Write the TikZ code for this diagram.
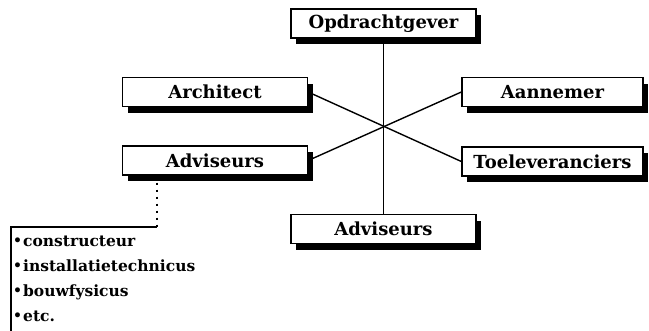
\documentclass[tikz,border=0pt]{standalone}
\usepackage{fontspec}
\setmainfont{DejaVu Serif}
\usetikzlibrary{shadows,positioning,backgrounds}
\newcommand{\itemdot}{\raisebox{0.05em}{\fontsize{14}{14}\selectfont\textbullet}\kern1pt}
\tikzset{
  every node/.style={
    font=\fontsize{18}{20}\selectfont\bfseries
  },
  party/.style={
    shape=rectangle,
    draw=black,
    line width=1.3pt,
    fill=white,
    minimum width=185pt,
    minimum height=29pt,
    inner sep=0pt,
    drop shadow={shadow xshift=5pt,shadow yshift=-6pt,fill=black,opacity=1}
  },
  link/.style={
    line width=1.4pt
  },
  dotlink/.style={
    line width=2pt,
    dash pattern=on 2pt off 5pt
  },
  members/.style={
    align=left,
    inner sep=0pt,
    font=\fontsize{15.5}{25}\selectfont\bfseries
  }
}
\begin{document}
\begin{tikzpicture}[x=1pt,y=-1pt]
  \useasboundingbox (0,0) rectangle (649,330);
  \node [party] (opdr) at (383.5,23.5) {Opdrachtgever};
  \node [party] (arch) at (215,92) {Architect};
  \node [party] (adv) at (215,160.5) {Adviseurs};
  \node [party,minimum width=181pt] (aan) at (552.5,92) {Aannemer};
  \node [party,minimum width=181pt] (toe) at (552.5,161.5) {Toeleveranciers};
  \node [party] (adv2) at (383.5,229) {Adviseurs};
  \begin{scope}[on background layer]
    \draw [link] (opdr) -- (adv2);
    \draw [link] (arch.east) -- (toe.west);
    \draw [link] (adv.east) -- (aan.west);
  \end{scope}
  \coordinate (corner) at (157,227);
  \node [members,anchor=north west] (list) at (13,236) {
    \itemdot constructeur\\
    \itemdot installatietechnicus\\
    \itemdot bouwfysicus\\
    \itemdot etc.
  };
  \draw [dotlink] (adv.south -| corner) -- (corner);
  \draw [link] (11,335) |- (corner);
\end{tikzpicture}
\end{document}
